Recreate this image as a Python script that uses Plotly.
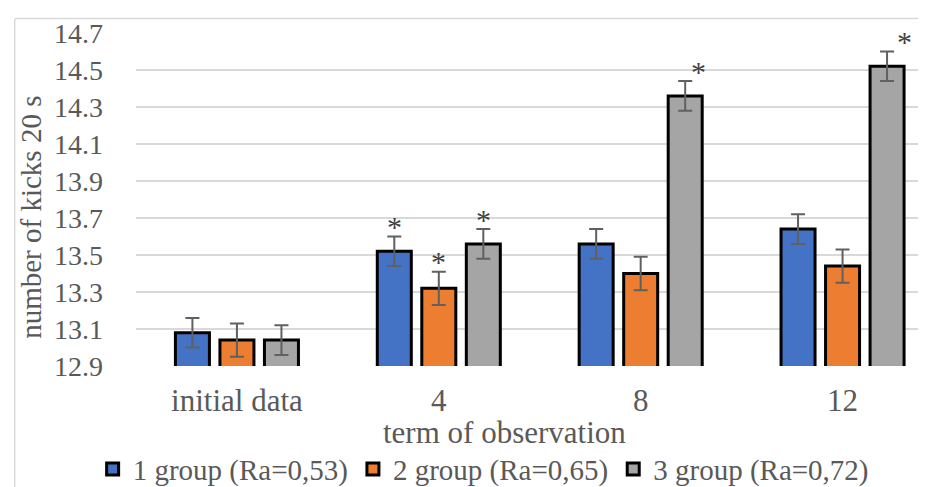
import plotly.graph_objects as go

categories = ["initial data", "4", "8", "12"]
group_names = ["1 group (Ra=0,53)", "2 group (Ra=0,65)", "3 group (Ra=0,72)"]
g1 = [13.08, 13.52, 13.56, 13.64]
g2 = [13.04, 13.32, 13.40, 13.44]
g3 = [13.04, 13.56, 14.36, 14.52]
err1 = [0.08, 0.08, 0.08, 0.08]
err2 = [0.09, 0.09, 0.09, 0.09]
err3 = [0.08, 0.08, 0.08, 0.08]
sig1 = [False, True, False, False]
sig2 = [False, True, False, False]
sig3 = [False, True, True, True]
y_ticks = [12.9, 13.1, 13.3, 13.5, 13.7, 13.9, 14.1, 14.3, 14.5, 14.7]

colors = ["#4472C4", "#ED7D31", "#A5A5A5"]
FONT = "Liberation Serif"
TXT = "#595959"

xpos = list(range(len(categories)))
series = [g1, g2, g3]
errs = [err1, err2, err3]
sigs = [sig1, sig2, sig3]

fig = go.Figure()
for name, vals, er, col in zip(group_names, series, errs, colors):
    fig.add_trace(go.Bar(
        x=xpos, y=vals, name=name,
        marker=dict(color=col, line=dict(color="black", width=3)),
        error_y=dict(type="data", array=er, visible=True, color="#606060", thickness=2, width=7),
    ))

bargap = 0.3385
slot = (1 - bargap) / 3
ast_xshift = {(2, 2): 13, (2, 3): 17}
annotations = []
for k, (vals, er, sg) in enumerate(zip(series, errs, sigs)):
    for i, (v, e, s) in enumerate(zip(vals, er, sg)):
        if s:
            annotations.append(dict(
                x=i + (k - 1) * slot, y=v + e, xref="x", yref="y",
                text="*", showarrow=False, yanchor="middle",
                xshift=ast_xshift.get((k, i), 0), yshift=10,
                font=dict(family=FONT, size=30, color="#404040"),
            ))

annotations.append(dict(x=-0.132, y=0.447, xref="paper", yref="paper", text="number of kicks 20 s",
                        textangle=-90, showarrow=False, xanchor="center", yanchor="middle",
                        font=dict(family=FONT, size=29, color=TXT)))
annotations.append(dict(x=0.4622, y=-0.2, xref="paper", yref="paper", text="term of observation",
                        showarrow=False, xanchor="center", yanchor="middle",
                        font=dict(family=FONT, size=31, color=TXT)))

shapes = [
    dict(type="line", xref="paper", yref="paper", x0=-0.152, x1=-0.152, y0=-0.5, y1=1.0439,
         line=dict(color="#D9D9D9", width=1.5)),
    dict(type="line", xref="paper", yref="paper", x0=-0.152, x1=1.01, y0=1.0439, y1=1.0439,
         line=dict(color="#D9D9D9", width=1.5)),
]

fig.update_layout(
    width=926, height=487,
    margin=dict(l=128, r=0, t=25, b=120),
    paper_bgcolor="white", plot_bgcolor="white",
    barmode="group", bargap=bargap, bargroupgap=0.236,
    font=dict(family=FONT, color=TXT),
    showlegend=True,
    legend=dict(orientation="h", x=0.435, xanchor="center", y=-0.31, yanchor="middle",
                font=dict(family=FONT, size=29, color=TXT), itemwidth=30),
    annotations=annotations,
    shapes=shapes,
    xaxis=dict(range=[-0.5, 3.453], tickvals=xpos, ticktext=categories, showgrid=False,
               zeroline=False, showline=False, ticks="", tickfont=dict(family=FONT, size=31, color=TXT),
               ticklabelstandoff=13),
    yaxis=dict(range=[12.9, 14.7], tickvals=y_ticks, tickformat=".1f", showgrid=True,
               gridcolor="#D9D9D9", gridwidth=1.5, zeroline=False, showline=False, ticks="",
               tickfont=dict(family=FONT, size=28, color=TXT), ticklabelstandoff=32),
)

fig.write_html("out.html")
